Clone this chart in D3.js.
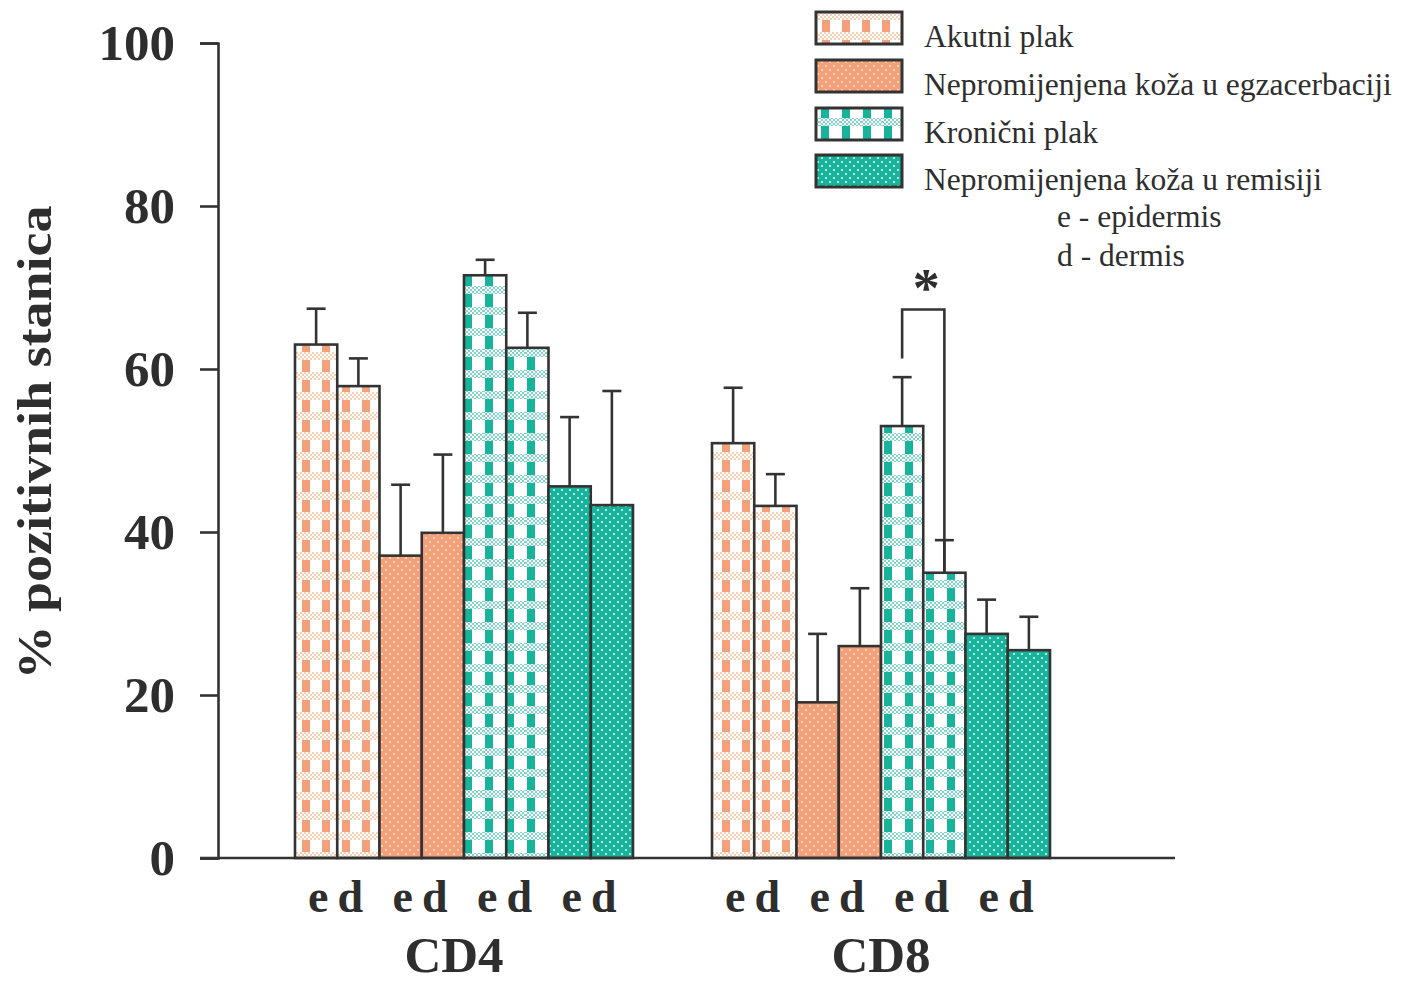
<!DOCTYPE html>
<html>
<head>
<meta charset="utf-8">
<script src="https://cdn.jsdelivr.net/npm/d3@7"></script>
<style>
  html, body { margin: 0; padding: 0; background: #fff; }
  svg { display: block; }
  text { font-family: "Liberation Serif", "Times New Roman", serif; fill: #2e2e2e; }
</style>
</head>
<body>
<svg id="chart" width="1403" height="984"></svg>
<script>
// ---------------- DATA ----------------
const groups = ["CD4", "CD8"];
const layers = ["e", "d"];
const seriesNames = ["Akutni plak", "Nepromijenjena koža u egzacerbaciji", "Kronični plak", "Nepromijenjena koža u remisiji"];
const seriesKeys = ["akutni", "egz", "kron", "rem"];
// values ordered: CD4 e, CD4 d, CD8 e, CD8 d
const akutniMean = [63.0, 57.9, 50.9, 43.2];
const akutniSD   = [4.4, 3.4, 6.8, 3.9];
const egzMean    = [37.1, 39.9, 19.1, 26.0];
const egzSD      = [8.7, 9.6, 8.4, 7.1];
const kronMean   = [71.5, 62.6, 53.0, 35.0];
const kronSD     = [1.9, 4.3, 6.0, 4.0];
const remMean    = [45.6, 43.3, 27.5, 25.5];
const remSD      = [8.5, 14.0, 4.2, 4.1];
const yTicks = [0, 20, 40, 60, 80, 100];
const notes = ["e - epidermis", "d - dermis"];
// significance bracket (CD8, Kronični plak e vs d)
const sigStart = 61.3, sigTop = 67.3;

const means = { akutni: akutniMean, egz: egzMean, kron: kronMean, rem: remMean };
const sds = { akutni: akutniSD, egz: egzSD, kron: kronSD, rem: remSD };

// build flat table
const rows = [];
groups.forEach((g, gi) => {
  seriesKeys.forEach((s, si) => {
    layers.forEach((l, li) => {
      const idx = gi * 2 + li;
      rows.push({ group: g, series: s, layer: l, key: s + "-" + l, mean: means[s][idx], sd: sds[s][idx] });
    });
  });
});
const subKeys = [];
seriesKeys.forEach(s => layers.forEach(l => subKeys.push(s + "-" + l)));

// ---------------- SCALES ----------------
const svg = d3.select("#chart");
const y = d3.scaleLinear().domain([0, 100]).range([858, 43]);
const xG = d3.scaleBand().domain(groups).range([295, 1050]).paddingInner(79 / 417).paddingOuter(0);
const xS = d3.scaleBand().domain(subKeys).range([0, xG.bandwidth()]).padding(0);

const ink = "#333";

// ---------------- PATTERNS ----------------
const defs = svg.append("defs");
const ORANGE = "#f4a07b", TEAL = "#17b39b";

function fine(id, c) {
  const p = defs.append("pattern").attr("id", id).attr("patternUnits", "userSpaceOnUse")
    .attr("width", 4).attr("height", 4);
  p.append("rect").attr("width", 4).attr("height", 4).attr("fill", "#fff");
  p.append("rect").attr("width", 2).attr("height", 2).attr("fill", c);
  p.append("rect").attr("x", 2).attr("y", 2).attr("width", 2).attr("height", 2).attr("fill", c);
}
fine("fineO", "#f9cfb3");
fine("fineT", "#7fd6c8");

function gingham(id, c, fineId, W, H) {
  const p = defs.append("pattern").attr("id", id).attr("patternUnits", "userSpaceOnUse")
    .attr("width", W).attr("height", H);
  p.append("rect").attr("width", W).attr("height", H).attr("fill", "#fff");
  p.append("rect").attr("x", 2).attr("y", 0).attr("width", 8).attr("height", H).attr("fill", c);
  p.append("rect").attr("x", 0).attr("y", H - 8).attr("width", W).attr("height", 8).attr("fill", "url(#" + fineId + ")");
}
gingham("pat-akutni", ORANGE, "fineO", 20, 20);
gingham("pat-kron", TEAL, "fineT", 21, 21);

function dots(id, c, dc) {
  const p = defs.append("pattern").attr("id", id).attr("patternUnits", "userSpaceOnUse")
    .attr("width", 8).attr("height", 8);
  p.append("rect").attr("width", 8).attr("height", 8).attr("fill", c);
  p.append("circle").attr("cx", 2).attr("cy", 2).attr("r", 1.1).attr("fill", dc);
  p.append("circle").attr("cx", 6).attr("cy", 6).attr("r", 1.1).attr("fill", dc);
}
dots("pat-egz", ORANGE, "#fde0c6");
dots("pat-rem", TEAL, "#d8f5ef");

const fillOf = s => "url(#pat-" + s + ")";

// ---------------- AXES ----------------
const yAxis = svg.append("g").attr("transform", "translate(218,0)")
  .call(d3.axisLeft(y).tickValues(yTicks).tickSize(18).tickPadding(25).tickFormat(d3.format("d")));
yAxis.select(".domain").attr("stroke", ink).attr("stroke-width", 2.6);
yAxis.selectAll(".tick line").attr("stroke", ink).attr("stroke-width", 2.6);
yAxis.selectAll(".tick text").attr("font-family", "Liberation Serif, serif")
  .attr("font-size", 51).attr("font-weight", "bold").attr("fill", "#2e2e2e").attr("dy", "0.33em");

svg.append("text")
  .attr("transform", "translate(51," + ((205 + 680) / 2) + ") rotate(-90)")
  .attr("text-anchor", "middle").attr("font-size", 48).attr("font-weight", "bold")
  .attr("textLength", 474).attr("lengthAdjust", "spacingAndGlyphs")
  .text("% pozitivnih stanica");

// ---------------- BARS ----------------
const gBars = svg.append("g");
const bx = d => xG(d.group) + xS(d.key);
gBars.selectAll("rect.bar").data(rows).join("rect").attr("class", "bar")
  .attr("x", d => bx(d)).attr("width", xS.bandwidth())
  .attr("y", d => y(d.mean)).attr("height", d => y(0) - y(d.mean))
  .attr("fill", d => fillOf(d.series)).attr("stroke", ink).attr("stroke-width", 2.6);

// error bars (upper only)
const cx = d => bx(d) + xS.bandwidth() / 2;
gBars.selectAll("line.err").data(rows).join("line").attr("class", "err")
  .attr("x1", cx).attr("x2", cx).attr("y1", d => y(d.mean)).attr("y2", d => y(d.mean + d.sd))
  .attr("stroke", ink).attr("stroke-width", 2.6);
gBars.selectAll("line.cap").data(rows).join("line").attr("class", "cap")
  .attr("x1", d => cx(d) - 9.5).attr("x2", d => cx(d) + 9.5)
  .attr("y1", d => y(d.mean + d.sd)).attr("y2", d => y(d.mean + d.sd))
  .attr("stroke", ink).attr("stroke-width", 2.6);

// x axis line
svg.append("line").attr("x1", 200).attr("x2", 1175).attr("y1", y(0)).attr("y2", y(0))
  .attr("stroke", ink).attr("stroke-width", 2.6);

// significance bracket
const ke = rows.find(r => r.group === "CD8" && r.key === "kron-e");
const kd = rows.find(r => r.group === "CD8" && r.key === "kron-d");
svg.append("path")
  .attr("d", `M${cx(ke)},${y(sigStart)} V${y(sigTop)} H${cx(kd)} V${y(kd.mean)}`)
  .attr("fill", "none").attr("stroke", ink).attr("stroke-width", 2.6);
svg.append("text").attr("x", (cx(ke) + cx(kd)) / 2 + 3).attr("y", y(sigTop) - 4)
  .attr("text-anchor", "middle").attr("font-size", 54).attr("font-weight", "bold").text("*");

// ---------------- X LABELS ----------------
const layerOffset = { e: 2, d: -8 };
svg.selectAll("text.layer").data(rows).join("text").attr("class", "layer")
  .attr("x", d => cx(d) + layerOffset[d.layer]).attr("y", 912)
  .attr("text-anchor", "middle").attr("font-size", 46).attr("font-weight", "bold")
  .text(d => d.layer);
const groupOffset = { CD4: -10, CD8: 0 };
svg.selectAll("text.grp").data(groups).join("text").attr("class", "grp")
  .attr("x", g => xG(g) + xG.bandwidth() / 2 + groupOffset[g]).attr("y", 972)
  .attr("text-anchor", "middle").attr("font-size", 51).attr("font-weight", "bold")
  .text(g => g);

// ---------------- LEGEND ----------------
const legY = [12, 60, 108, 155];
const leg = svg.append("g");
seriesKeys.forEach((s, i) => {
  leg.append("rect").attr("x", 816).attr("y", legY[i]).attr("width", 86).attr("height", 32)
    .attr("fill", fillOf(s)).attr("stroke", ink).attr("stroke-width", 3);
  leg.append("text").attr("x", 924).attr("y", legY[i] + 35).attr("font-size", 31.5)
    .text(seriesNames[i]);
});
notes.forEach((t, i) => {
  leg.append("text").attr("x", 1057).attr("y", 227 + i * 39).attr("font-size", 31.5).text(t);
});
</script>
</body>
</html>
